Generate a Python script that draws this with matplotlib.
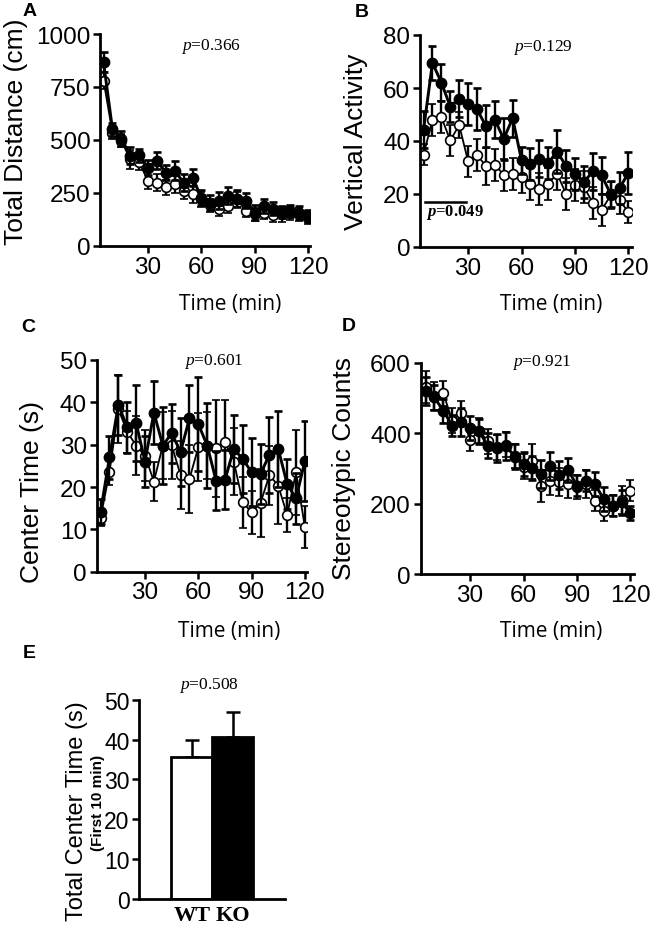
import matplotlib
matplotlib.use("Agg")
import matplotlib.pyplot as plt

plt.rcParams["font.family"] = ["Liberation Sans", "DejaVu Sans"]
plt.rcParams["mathtext.fontset"] = "custom"
plt.rcParams["mathtext.rm"] = "Liberation Serif"
plt.rcParams["mathtext.it"] = "Liberation Serif:italic"
plt.rcParams["mathtext.bf"] = "Liberation Serif:bold:italic"

W, H = 654, 929

TIME = [5, 10, 15, 20, 25, 30, 35, 40, 45, 50, 55, 60,
        65, 70, 75, 80, 85, 90, 95, 100, 105, 110, 115, 120]
TIME_TICKS = [30, 60, 90, 120]

# A: total distance (cm)
DIST_KO = [866, 551, 507, 425, 428, 370, 402, 346, 354, 299, 323, 228,
           205, 213, 236, 224, 213, 157, 189, 176, 161, 165, 157, 142]
DIST_KO_SEM = [47, 30, 35, 40, 30, 35, 40, 35, 45, 40, 40, 35,
               35, 40, 40, 40, 35, 35, 35, 30, 30, 30, 30, 30]
DIST_WT = [780, 535, 496, 409, 394, 307, 299, 276, 291, 260, 244, 220,
           192, 176, 189, 220, 165, 150, 157, 145, 150, 154, 150, 134]
DIST_WT_SEM = [40, 30, 30, 45, 35, 40, 40, 35, 40, 40, 40, 35,
               30, 35, 35, 35, 30, 30, 30, 30, 35, 30, 30, 30]

# B: vertical activity
VERT_KO = [44.3, 69.5, 62.0, 53.0, 56.0, 54.0, 52.0, 45.6, 48.0, 40.8, 48.6, 32.7,
           31.2, 33.3, 31.8, 36.0, 30.5, 27.6, 24.5, 28.5, 27.0, 20.0, 22.2, 28.0]
VERT_KO_SEM = [7, 6.5, 7, 6, 7, 8, 8, 8, 7, 8, 7, 5,
               6, 7, 6, 8, 6, 6, 6, 7, 7, 5, 6, 8]
VERT_WT = [34.8, 48.0, 49.0, 40.2, 46.0, 32.3, 34.8, 30.5, 31.0, 27.3, 27.6, 26.4,
           23.9, 22.0, 23.9, 27.6, 20.0, 23.5, 22.6, 16.7, 14.0, 19.5, 17.6, 13.2]
VERT_WT_SEM = [4, 6, 6, 6, 5, 6, 6, 7, 6, 6, 6, 6,
               6, 6, 6, 6, 6, 6, 6, 6, 6, 5, 5, 4]

# C: center time (s)
CENTER_KO = [14.2, 27.0, 39.4, 34.1, 35.1, 26.0, 37.6, 29.8, 32.7, 28.3, 36.2, 34.9,
             29.8, 21.5, 21.7, 29.0, 26.6, 23.5, 23.1, 27.6, 29.0, 20.7, 17.3, 26.2]
CENTER_KO_SEM = [3, 5, 7, 6, 9, 6, 7.5, 9, 7, 8, 8, 11,
                 10, 7, 7, 8, 8, 8, 7, 9, 9, 6, 6, 9.5]
CENTER_WT = [12.8, 23.5, 38.4, 33.0, 29.8, 27.4, 21.3, 29.8, 29.9, 22.8, 21.9, 29.4,
             29.8, 29.1, 30.6, 26.0, 16.4, 14.0, 16.2, 22.8, 20.3, 13.4, 23.5, 10.5]
CENTER_WT_SEM = [2, 3, 8, 5, 7, 6, 4.5, 8, 8, 8, 8, 8,
                 8, 11.5, 10, 8, 6, 5, 8, 7, 9, 4, 10, 5]

# D: stereotypic counts
STEREO_KO = [520, 502, 464, 422, 431, 415, 406, 365, 359, 365, 334, 313,
             301, 284, 308, 282, 296, 251, 265, 256, 213, 194, 204, 173]
STEREO_KO_SEM = [40, 35, 35, 30, 40, 35, 35, 35, 40, 40, 35, 35,
                 35, 40, 40, 40, 35, 30, 30, 35, 35, 30, 35, 20]
STEREO_WT = [531, 507, 514, 436, 457, 381, 408, 377, 360, 368, 336, 305,
             320, 251, 265, 261, 256, 247, 256, 208, 180, 194, 210, 237]
STEREO_WT_SEM = [45, 40, 35, 35, 35, 30, 35, 35, 35, 35, 35, 35,
                 50, 45, 40, 40, 40, 35, 40, 30, 30, 30, 40, 30]

# E: total center time, first 10 min
GROUPS = ["WT", "KO"]
TOTAL_CENTER = [35.5, 40.7]
TOTAL_CENTER_SEM = [4.5, 6.2]

# significance bar in panel B (first 30 min)
SIG_SPAN = [6, 29]
SIG_LEVEL = 17


def add_axes_px(fig, left, top, right, bottom):
    return fig.add_axes([left / W, 1 - bottom / H, (right - left) / W, (bottom - top) / H])


def fig_text(fig, x, y, s, **kw):
    fig.text(x / W, 1 - y / H, s, **kw)


def style_axis(ax, ylim, yticks, labelsize=17.5):
    for side in ("top", "right"):
        ax.spines[side].set_visible(False)
    for side in ("left", "bottom"):
        ax.spines[side].set_linewidth(2.0)
    ax.set_ylim(*ylim)
    ax.set_yticks(yticks)
    ax.tick_params(axis="both", direction="out", length=5, width=1.8,
                   labelsize=labelsize, pad=2)


def plot_pair(ax, ko, ko_sem, wt, wt_sem):
    ax.errorbar(TIME, wt, yerr=wt_sem, color="black", lw=1.3, elinewidth=1.7,
                capsize=3, capthick=1.9, marker="o", ms=7, mfc="white",
                mec="black", mew=1.2, zorder=2)
    ax.errorbar(TIME, ko, yerr=ko_sem, color="black", lw=2.1, elinewidth=1.7,
                capsize=3, capthick=1.9, marker="o", ms=7.5, mfc="black",
                mec="black", zorder=3)
    ax.set_xticks(TIME_TICKS)
    ax.set_xlabel("Time (min)", family="Open Sans", fontsize=15, va="center")


fig = plt.figure(figsize=(W / 100, H / 100), dpi=100)

# panel A
ax_a = add_axes_px(fig, 100, 35, 310, 247)
plot_pair(ax_a, DIST_KO, DIST_KO_SEM, DIST_WT, DIST_WT_SEM)
style_axis(ax_a, (0, 1000), [0, 250, 500, 750, 1000])
ax_a.set_xlim(3, 121)
ax_a.set_ylabel("Total Distance (cm)", fontsize=19, va="center")
ax_a.yaxis.set_label_coords(-0.40, 0.545)
ax_a.xaxis.set_label_coords(0.62, -0.27)

# panel B
ax_b = add_axes_px(fig, 420, 36, 632, 248)
plot_pair(ax_b, VERT_KO, VERT_KO_SEM, VERT_WT, VERT_WT_SEM)
style_axis(ax_b, (0, 80), [0, 20, 40, 60, 80])
ax_b.set_xlim(3, 122)
ax_b.set_ylabel("Vertical Activity", fontsize=19, va="center")
ax_b.yaxis.set_label_coords(-0.302, 0.502)
ax_b.xaxis.set_label_coords(0.62, -0.265)
ax_b.plot(SIG_SPAN, [SIG_LEVEL, SIG_LEVEL], color="black", lw=1.8)
ax_b.text(SIG_SPAN[0] + 0.5, SIG_LEVEL - 3.5, r"$\mathbf{p}$=0.049",
          family="Liberation Serif", fontweight="bold", fontsize=12,
          ha="left", va="center")

# panel C
ax_c = add_axes_px(fig, 96.7, 361, 306.7, 572.7)
plot_pair(ax_c, CENTER_KO, CENTER_KO_SEM, CENTER_WT, CENTER_WT_SEM)
style_axis(ax_c, (0, 50), [0, 10, 20, 30, 40, 50])
ax_c.set_xlim(2.8, 121)
ax_c.set_ylabel("Center Time (s)", fontsize=19, va="center")
ax_c.yaxis.set_label_coords(-0.308, 0.381)
ax_c.xaxis.set_label_coords(0.63, -0.28)

# panel D
ax_d = add_axes_px(fig, 420.7, 364, 634, 575)
plot_pair(ax_d, STEREO_KO, STEREO_KO_SEM, STEREO_WT, STEREO_WT_SEM)
style_axis(ax_d, (0, 600), [0, 200, 400, 600])
ax_d.set_xlim(2.3, 122)
ax_d.set_ylabel("Stereotypic Counts", fontsize=19, va="center")
ax_d.yaxis.set_label_coords(-0.36, 0.507)
ax_d.xaxis.set_label_coords(0.61, -0.27)

# panel E
ax_e = add_axes_px(fig, 139.3, 700.7, 285, 900)
ax_e.bar([0, 1], TOTAL_CENTER, width=1.0, color=["white", "black"],
         edgecolor="black", linewidth=2.0, zorder=2)
ax_e.errorbar([0, 1], TOTAL_CENTER, yerr=[[0, 0], TOTAL_CENTER_SEM], fmt="none",
              ecolor="black", elinewidth=1.8, capsize=5, capthick=1.8, zorder=1)
style_axis(ax_e, (0, 50), [0, 10, 20, 30, 40, 50], labelsize=16.5)
ax_e.set_xlim(-1.28, 2.27)
ax_e.set_xticks([0, 1])
ax_e.set_xticklabels(GROUPS, family="Liberation Serif", fontweight="bold", fontsize=16)
ax_e.tick_params(axis="x", length=0, pad=4)
ax_e.set_ylabel("Total Center Time (s)", fontsize=17, va="center")
ax_e.yaxis.set_label_coords(-0.425, 0.447)
ax_e.text(-0.286, 0.487, "(First 10 min)", transform=ax_e.transAxes, rotation=90,
          fontsize=11, fontweight="bold", ha="center", va="center")

# p values
for x, y, s in [(210.8, 46, "0.366"), (542.5, 47.5, "0.129"), (213.5, 361.5, "0.601"),
                (541.5, 362.5, "0.921"), (209, 686, "0.508")]:
    fig_text(fig, x, y, r"$p$=" + s, family="Liberation Serif", fontsize=12.5,
             ha="center", va="center")

# panel letters
for x, y, s in [(30, 11.5, "A"), (361.5, 12.5, "B"), (28.3, 328, "C"),
                (348.5, 326.5, "D"), (29, 653, "E")]:
    fig_text(fig, x, y, s, fontsize=14, fontweight="bold", ha="center", va="center")

fig.savefig("out.png", dpi=100)
